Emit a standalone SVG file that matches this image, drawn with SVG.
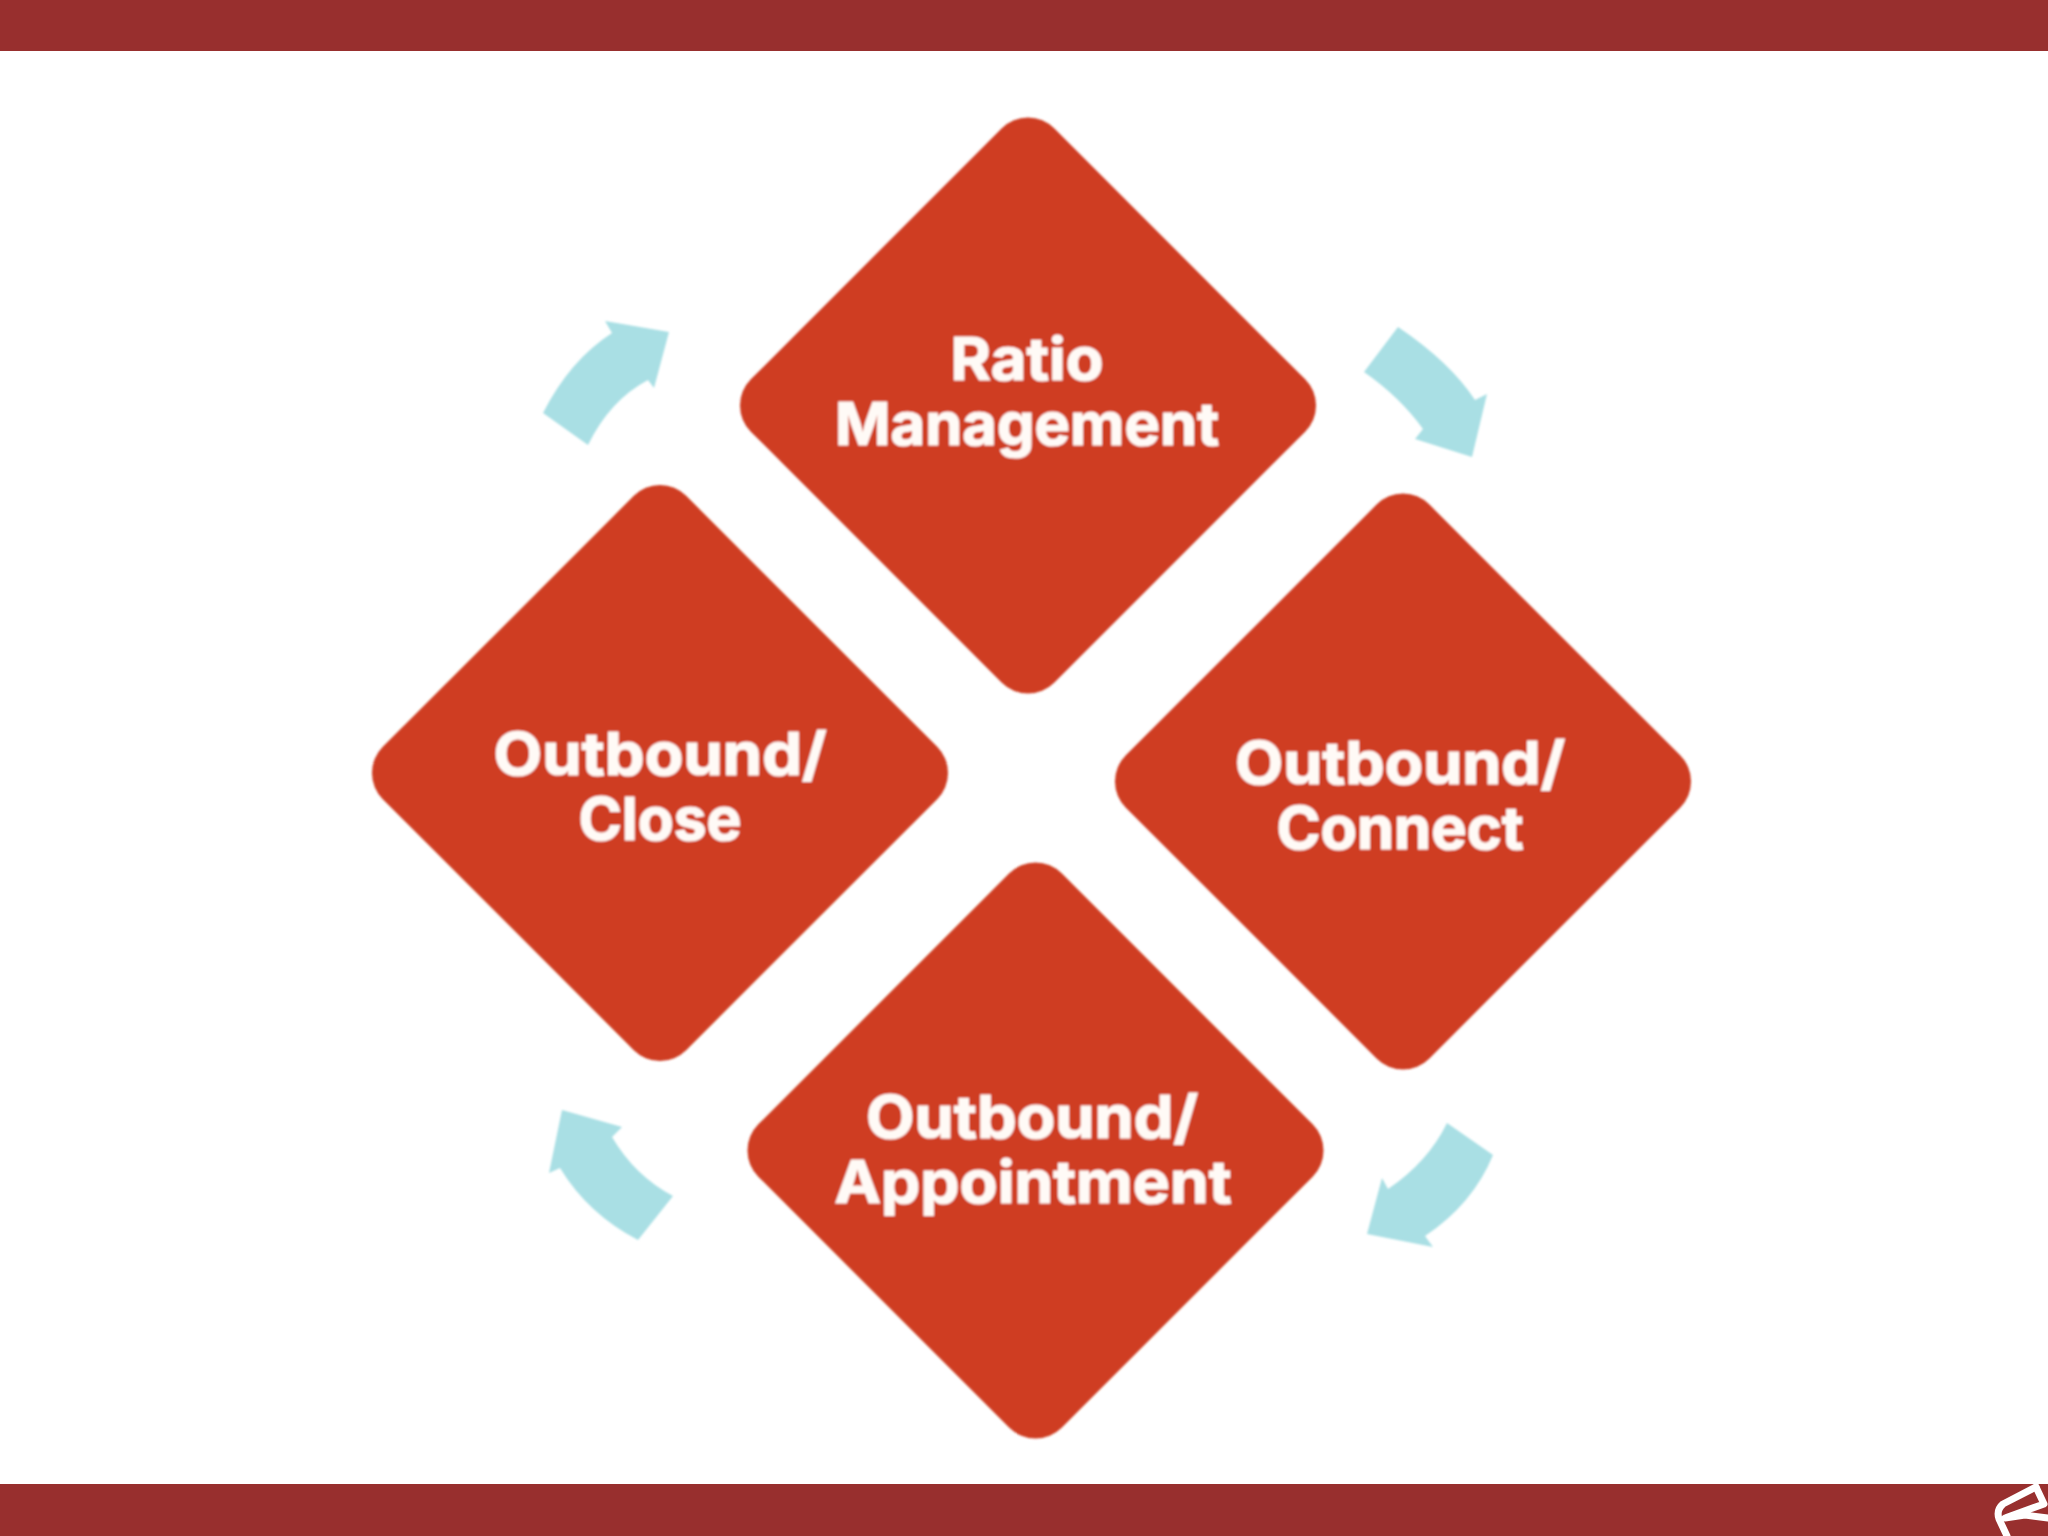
<svg xmlns="http://www.w3.org/2000/svg" width="2048" height="1536" viewBox="0 0 2048 1536">
<style>
.bar{fill:#982f2e}
.d{fill:#cf3c24}
.a{fill:#a9dfe4}
.t{font-family:"Inter","Liberation Sans",sans-serif;font-weight:700;font-size:59px;fill:#fffaf6;stroke:#fffaf6;stroke-width:1.200;text-anchor:middle}
.logo{fill:none;stroke:#fff;stroke-width:7;stroke-linejoin:round;stroke-linecap:round}
.soft{filter:url(#soft)}
</style>
<defs>
<filter id="soft" x="-5%" y="-5%" width="110%" height="110%"><feGaussianBlur stdDeviation="0.9"/></filter>
<rect id="dm" x="-214.500" y="-214.500" width="429" height="429" rx="37" ry="37"/>
</defs>
<rect class="bar" x="0" y="0" width="2048" height="51"/>
<rect class="bar" x="0" y="1484" width="2048" height="52"/>
<g id="node-ratio" class="soft"><use href="#dm" class="d" transform="translate(1028 405.500) rotate(45)"/>
<text class="t" x="1027" y="380" textLength="153" lengthAdjust="spacingAndGlyphs">Ratio</text>
<text class="t" x="1027" y="445" textLength="384" lengthAdjust="spacingAndGlyphs">Management</text></g>
<g id="node-connect" class="soft"><use href="#dm" class="d" transform="translate(1403 781.500) rotate(45)"/>
<text class="t" x="1400" y="784" textLength="330" lengthAdjust="spacingAndGlyphs">Outbound/</text>
<text class="t" x="1400" y="849" textLength="247" lengthAdjust="spacingAndGlyphs">Connect</text></g>
<g id="node-appointment" class="soft"><use href="#dm" class="d" transform="translate(1035.500 1150.500) rotate(45)"/>
<text class="t" x="1032" y="1138" textLength="332" lengthAdjust="spacingAndGlyphs">Outbound/</text>
<text class="t" x="1033" y="1203" textLength="397" lengthAdjust="spacingAndGlyphs">Appointment</text></g>
<g id="node-close" class="soft"><use href="#dm" class="d" transform="translate(660 773) rotate(45)"/>
<text class="t" x="660" y="775" textLength="333" lengthAdjust="spacingAndGlyphs">Outbound/</text>
<text class="t" x="660" y="840" textLength="163" lengthAdjust="spacingAndGlyphs">Close</text></g>
<g id="connectors" class="soft">
<path class="a" d="M1398 327Q1450 362 1475 400L1487 394L1472 457L1415 439L1423 429Q1400 397 1364 372Z"/>
<path class="a" d="M1447 1123Q1428 1162 1388 1189L1382 1178L1367 1234L1433 1247L1425 1236Q1473 1204 1493 1155Z"/>
<path class="a" d="M673 1196Q635 1176 612 1137L622 1127L562 1110L549 1173L560 1168Q588 1214 638 1240Z"/>
<path class="a" d="M543 413Q570 360 612 333L605 321L669 332L654 388L648 380Q610 400 588 445Z"/>
</g>
<g id="logo"><path class="logo" d="M2036 1487L2003 1504Q1996 1510 1999 1519L2007 1536"/><path class="logo" d="M2036 1487L2044 1504L2005 1518L2025 1515L2048 1518"/></g>
</svg>
